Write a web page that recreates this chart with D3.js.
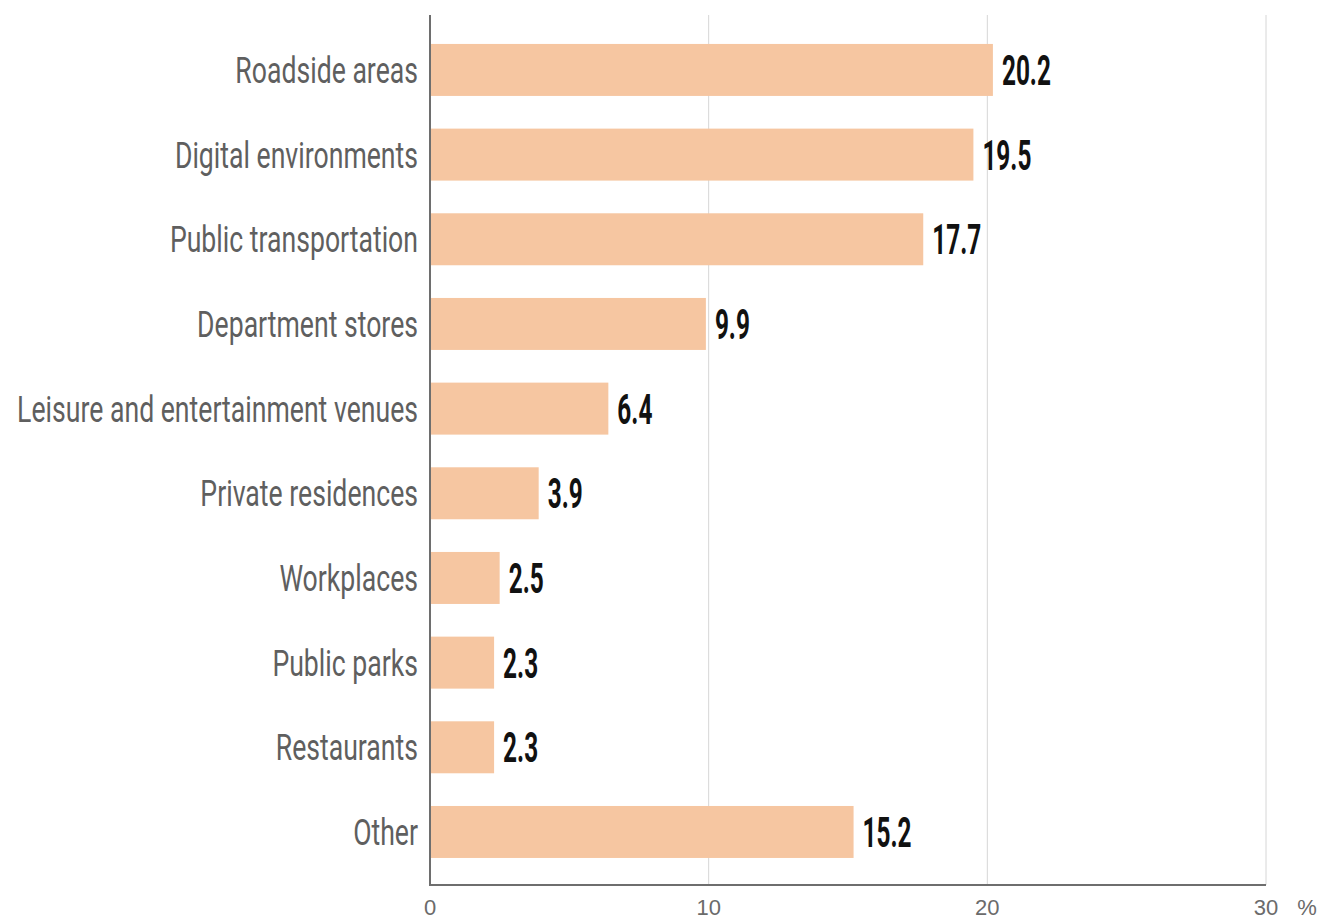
<!DOCTYPE html>
<html><head><meta charset="utf-8">
<script src="https://cdn.jsdelivr.net/npm/d3@7"></script>
<style>body{margin:0;background:#fff}svg{display:block}</style>
</head><body>
<svg id="c" width="1321" height="920"></svg>
<script>
const categories = ["Roadside areas","Digital environments","Public transportation","Department stores","Leisure and entertainment venues","Private residences","Workplaces","Public parks","Restaurants","Other"];
const values = [20.2,19.5,17.7,9.9,6.4,3.9,2.5,2.3,2.3,15.2];
const xTicks = [0,10,20,30];
const unitLabel = "%";

(function(){
const svg = d3.select("#c");
const pLeft = 430, pRight = 1266, pTop = 15, pBottom = 885;
const x = d3.scaleLinear().domain([0,30]).range([pLeft,pRight]);
const y = d3.scaleBand().domain(categories).range([27.6,874.3]).paddingInner(0.386).paddingOuter(0.193);

svg.append("g").selectAll("line").data(xTicks.filter(d=>d>0)).join("line")
  .attr("x1",d=>x(d)).attr("x2",d=>x(d)).attr("y1",pTop).attr("y2",pBottom)
  .attr("stroke","#d6d6d6").attr("stroke-width",1);

svg.append("g").selectAll("rect").data(values).join("rect")
  .attr("x",x(0)).attr("y",(d,i)=>y(categories[i]))
  .attr("width",d=>x(d)-x(0)).attr("height",y.bandwidth())
  .attr("fill","#f6c6a1");

svg.append("line").attr("x1",pLeft).attr("x2",pLeft).attr("y1",pTop).attr("y2",pBottom+1).attr("stroke","#6e6e6e").attr("stroke-width",2);
svg.append("line").attr("x1",pLeft).attr("x2",pRight).attr("y1",pBottom).attr("y2",pBottom).attr("stroke","#6e6e6e").attr("stroke-width",2);

svg.append("g").selectAll("text").data(xTicks).join("text")
  .attr("x",d=>x(d)).attr("y",915).attr("text-anchor","middle")
  .attr("font-family","Liberation Sans, Arial, sans-serif").attr("font-size",22).attr("fill","#6b6b6b")
  .text(d=>d);
svg.append("text").attr("x",1307).attr("y",915).attr("text-anchor","middle")
  .attr("font-family","Liberation Sans, Arial, sans-serif").attr("font-size",22).attr("fill","#6b6b6b").text(unitLabel);

const catSX = 0.72;
svg.append("g").selectAll("text").data(categories).join("text")
  .attr("transform",d=>`translate(${pLeft-12},${y(d)+y.bandwidth()/2+13}) scale(${catSX},1)`)
  .attr("text-anchor","end")
  .attr("font-family","Roboto, sans-serif").attr("font-size",37).attr("fill","#5f5f5f")
  .text(d=>d);

const valSX = 0.58;
svg.append("g").selectAll("text").data(values).join("text")
  .attr("transform",(d,i)=>`translate(${x(d)+9},${y(categories[i])+y.bandwidth()/2+15}) scale(${valSX},1)`)
  .attr("font-family","Roboto, sans-serif").attr("font-weight",700).attr("font-size",42).attr("fill","#111")
  .text(d=>d.toFixed(1));
})();
</script>
</body></html>
